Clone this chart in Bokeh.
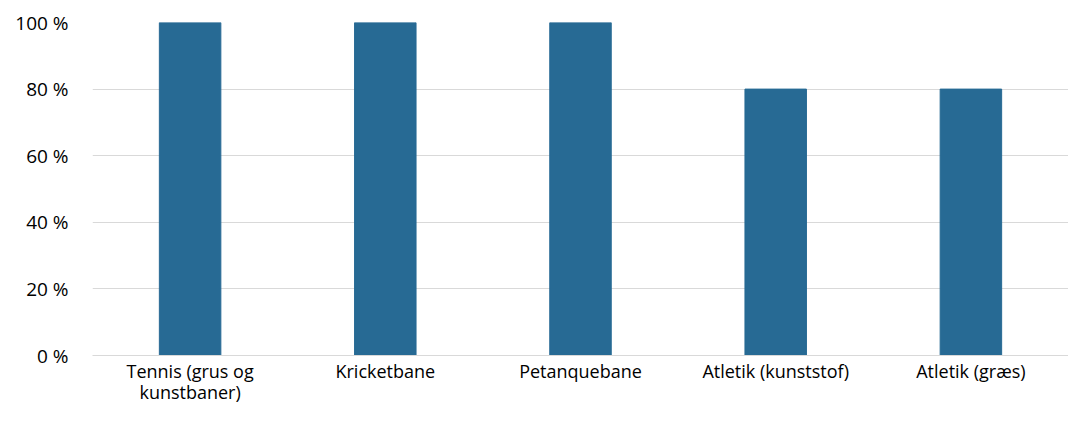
from bokeh.plotting import figure
from bokeh.embed import file_html
from bokeh.resources import INLINE
from bokeh.models import FixedTicker, CustomJSTickFormatter, Range1d, FactorRange

categories = ["Tennis (grus og\nkunstbaner)", "Kricketbane", "Petanquebane", "Atletik (kunststof)", "Atletik (græs)"]
values = [100, 100, 100, 80, 80]
y_ticks = [0, 20, 40, 60, 80, 100]

p = figure(x_range=FactorRange(*categories, range_padding=0), y_range=Range1d(0, 100),
           width=1068, height=407, output_backend="svg", toolbar_location=None,
           min_border_left=92, min_border_right=0, min_border_top=22, min_border_bottom=0)
p.vbar(x=categories, top=values, width=0.315, color="#276a94")

p.outline_line_color = None
p.xgrid.grid_line_color = None
p.ygrid.grid_line_color = "#d9d9d9"
p.ygrid.grid_line_width = 1
p.yaxis.ticker = FixedTicker(ticks=y_ticks)
p.yaxis.formatter = CustomJSTickFormatter(code="return tick + ' %';")
for ax in (p.xaxis, p.yaxis):
    ax.axis_line_color = None
    ax.major_tick_line_color = None
    ax.minor_tick_line_color = None
    ax.major_tick_out = 0
    ax.major_tick_in = 0
    ax.minor_tick_out = 0
    ax.major_label_text_font = "Open Sans"
    ax.major_label_text_font_size = "19px"
    ax.major_label_text_color = "#000000"
p.xaxis.axis_line_color = "#d9d9d9"
p.xaxis.major_label_text_font_size = "18px"
p.xaxis.major_label_text_line_height = 0.9
p.yaxis.major_label_standoff = 24
p.xaxis.major_label_standoff = 3

open("out.html", "w").write(file_html(p, INLINE))
